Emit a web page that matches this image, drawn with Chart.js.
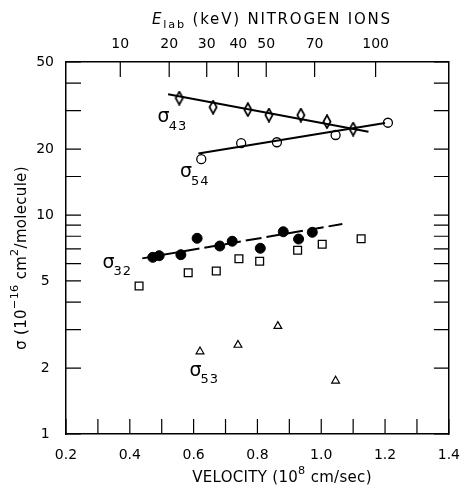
<!DOCTYPE html>
<html>
<head>
<meta charset="utf-8">
<script src="https://cdn.jsdelivr.net/npm/chart.js@4.4.0/dist/chart.umd.min.js"></script>
<style>
  html, body { margin: 0; padding: 0; background: #fff; }
  #wrap { width: 473px; height: 486px; }
</style>
</head>
<body>
<div id="wrap"><canvas id="chart" width="473" height="486"></canvas></div>
<script>
// velocity in 1e8 cm/sec, sigma in 1e-16 cm^2/molecule
const vel43 = [0.555, 0.661, 0.770, 0.836, 0.936, 1.018, 1.100];
const sig43 = [34.2, 31.1, 30.3, 28.6, 28.6, 26.7, 24.7];
const fit43V = [0.520, 1.148];
const fit43S = [35.6, 24.0];

const vel54 = [0.624, 0.749, 0.861, 1.045, 1.209];
const sig54 = [18.0, 21.3, 21.5, 23.2, 26.4];
const fit54V = [0.615, 1.200];
const fit54S = [19.1, 26.3];

const vel32 = [0.472, 0.492, 0.560, 0.611, 0.682, 0.721, 0.809, 0.881, 0.929, 0.972];
const sig32 = [6.41, 6.52, 6.59, 7.83, 7.22, 7.59, 7.05, 8.39, 7.77, 8.34];
const fit32V = [0.439, 1.066];
const fit32S = [6.34, 9.10];

const velSq = [0.429, 0.583, 0.671, 0.742, 0.807, 0.926, 1.003, 1.125];
const sigSq = [4.74, 5.45, 5.55, 6.32, 6.15, 6.90, 7.35, 7.80];

const vel53 = [0.620, 0.739, 0.864, 1.045];
const sig53 = [2.38, 2.55, 3.11, 1.75];

const yLabels = [1, 2, 5, 10, 20, 50];
const eLab = [10, 20, 30, 40, 50, 70, 100];
const K = 73; // keV per (1e8 cm/s)^2 for nitrogen

const seriesNames = ['43', '54', '32', '53'];
const nameV = [0.506, 0.576, 0.333, 0.606];
const nameS = [28.0, 15.7, 6.04, 1.94];

const FONT = "'DejaVu Sans', 'Liberation Sans', sans-serif";
const pts = (v, s) => v.map((x, i) => ({ x: x, y: s[i] }));

// tall narrow diamond marker
const diamond = document.createElement('canvas');
diamond.width = 10; diamond.height = 15;
(() => {
  const c = diamond.getContext('2d');
  c.fillStyle = '#fff';
  c.strokeStyle = '#000';
  c.lineWidth = 1.7;
  c.beginPath();
  c.moveTo(5, 1); c.lineTo(8.6, 7.5); c.lineTo(5, 14); c.lineTo(1.4, 7.5); c.closePath();
  c.fill(); c.stroke();
})();

function drawRich(ctx, segs, cx, cy, size, spacing) {
  ctx.letterSpacing = (spacing || 0) + 'px';
  let w = 0;
  segs.forEach(s => {
    const fs = s.sub || s.sup ? size * 0.75 : size;
    ctx.font = (s.italic ? 'italic ' : '') + fs + 'px ' + FONT;
    s.w = ctx.measureText(s.t).width;
    s.fs = fs;
    w += s.w;
  });
  let x = cx - w / 2;
  ctx.textBaseline = 'middle';
  ctx.textAlign = 'left';
  segs.forEach(s => {
    ctx.font = (s.italic ? 'italic ' : '') + s.fs + 'px ' + FONT;
    const dy = s.sub ? size * 0.35 : s.sup ? -size * 0.45 : 0;
    ctx.fillText(s.t, x, cy + dy);
    x += s.w;
  });
  ctx.letterSpacing = '0px';
}

const decor = {
  id: 'decor',
  afterDraw(chart) {
    const ctx = chart.ctx;
    const a = chart.chartArea;
    const sx = chart.scales.x, sy = chart.scales.y, st = chart.scales.x2;
    ctx.save();
    ctx.strokeStyle = '#000';
    ctx.lineWidth = 1.2;
    const T = 15;
    ctx.beginPath();
    sx.ticks.forEach(t => {
      const p = sx.getPixelForValue(t.value);
      ctx.moveTo(p, a.bottom); ctx.lineTo(p, a.bottom - T);
    });
    st.ticks.forEach(t => {
      const p = st.getPixelForValue(t.value);
      ctx.moveTo(p, a.top); ctx.lineTo(p, a.top + T);
    });
    sy.ticks.forEach(t => {
      const p = sy.getPixelForValue(t.value);
      ctx.moveTo(a.left, p); ctx.lineTo(a.left + T, p);
      ctx.moveTo(a.right, p); ctx.lineTo(a.right - T, p);
    });
    ctx.stroke();

    ctx.fillStyle = '#000';
    // series names
    seriesNames.forEach((n, i) => {
      const px = sx.getPixelForValue(nameV[i]);
      const py = sy.getPixelForValue(nameS[i]);
      ctx.font = '19px ' + FONT;
      ctx.textAlign = 'center';
      ctx.textBaseline = 'middle';
      ctx.fillText('σ', px, py);
      ctx.font = '13px ' + FONT;
      ctx.textAlign = 'left';
      ctx.letterSpacing = '1px';
      ctx.fillText(n, px + 5, py + 9);
      ctx.letterSpacing = '0px';
    });

    // axis titles
    drawRich(ctx, [{ t: 'E', italic: true }, { t: 'lab', sub: true }, { t: ' (keV) NITROGEN IONS' }], 272, 20, 15, 1.8);
    drawRich(ctx, [{ t: 'VELOCITY (10' }, { t: '8', sup: true }, { t: ' cm/sec)' }], 282, 478, 15, 0.3);
    ctx.translate(22, 258);
    ctx.rotate(-Math.PI / 2);
    drawRich(ctx, [{ t: 'σ (10' }, { t: '−16', sup: true }, { t: ' cm' }, { t: '2', sup: true }, { t: '/molecule)' }], 0, 0, 15, 0.3);
    ctx.restore();
  }
};

const lineDs = (v, s, dash) => ({
  data: pts(v, s), showLine: true, borderColor: '#000', borderWidth: 2,
  borderDash: dash || [], pointRadius: 0, pointHoverRadius: 0
});

new Chart(document.getElementById('chart'), {
  type: 'scatter',
  data: {
    datasets: [
      lineDs(fit43V, fit43S),
      lineDs(fit54V, fit54S),
      lineDs(fit32V, fit32S, [16, 5]),
      { data: pts(vel43, sig43), pointStyle: diamond, pointRadius: 6 },
      { data: pts(vel54, sig54), pointStyle: 'circle', pointRadius: 4.5, backgroundColor: '#fff', borderColor: '#000', borderWidth: 1.3 },
      { data: pts(vel32, sig32), pointStyle: 'circle', pointRadius: 5, backgroundColor: '#000', borderColor: '#000', borderWidth: 1 },
      { data: pts(velSq, sigSq), pointStyle: 'rect', pointRadius: 5.5, backgroundColor: '#fff', borderColor: '#000', borderWidth: 1.3 },
      { data: pts(vel53, sig53), pointStyle: 'triangle', pointRadius: 4.5, backgroundColor: '#fff', borderColor: '#000', borderWidth: 1.2 }
    ]
  },
  options: {
    responsive: false,
    animation: false,
    layout: { padding: 0 },
    plugins: { legend: { display: false }, tooltip: { enabled: false } },
    scales: {
      x: {
        type: 'linear', position: 'bottom', min: 0.2, max: 1.4,
        afterFit: s => { s.height = 52; },
        grid: { display: false, drawTicks: false },
        border: { display: true, color: '#000', width: 1.5 },
        ticks: {
          stepSize: 0.1, autoSkip: false, maxRotation: 0, padding: 13, color: '#000',
          font: { family: FONT, size: 14 },
          callback: v => Math.round(v * 10) % 2 === 0 ? v.toFixed(1) : ''
        }
      },
      x2: {
        type: 'linear', position: 'top', min: 0.2, max: 1.4,
        afterFit: s => { s.height = 62; },
        afterBuildTicks: s => { s.ticks = eLab.map(e => ({ value: Math.sqrt(e / K) })); },
        grid: { display: false, drawTicks: false },
        border: { display: true, color: '#000', width: 1.5 },
        ticks: {
          autoSkip: false, maxRotation: 0, padding: 9, color: '#000',
          font: { family: FONT, size: 14 },
          callback: (v, i) => String(eLab[i])
        }
      },
      y: {
        type: 'logarithmic', position: 'left', min: 1, max: 50,
        afterFit: s => { s.width = 66; },
        grid: { display: false, drawTicks: false },
        border: { display: true, color: '#000', width: 1.5 },
        ticks: {
          autoSkip: false, padding: 12, crossAlign: 'center', color: '#000',
          font: { family: FONT, size: 14 },
          callback: v => yLabels.includes(v) ? String(v) : ''
        }
      },
      y2: {
        type: 'logarithmic', position: 'right', min: 1, max: 50,
        afterFit: s => { s.width = 10; },
        grid: { display: false, drawTicks: false },
        border: { display: true, color: '#000', width: 1.5 },
        ticks: { display: false }
      }
    }
  },
  plugins: [decor]
});
</script>
</body>
</html>
